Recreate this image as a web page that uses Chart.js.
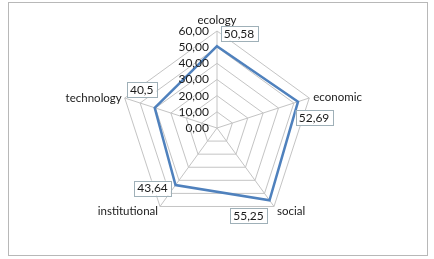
<!DOCTYPE html>
<html>
<head>
<meta charset="utf-8">
<script src="https://cdn.jsdelivr.net/npm/chart.js@4"></script>
<style>
  html, body { margin: 0; padding: 0; background: #fff; }
  #wrap { position: relative; width: 434px; height: 259px; }
</style>
</head>
<body>
<div id="wrap"><canvas id="radar" width="434" height="259"></canvas></div>
<script>
// --- data ---
const categories = ['ecology', 'economic', 'social', 'institutional', 'technology'];
const scores = [50.58, 52.69, 55.25, 43.64, 40.5];
const scoreText = ['50,58', '52,69', '55,25', '43,64', '40,5'];
const tickValues = [0, 10, 20, 30, 40, 50, 60];
const tickText = ['0,00', '10,00', '20,00', '30,00', '40,00', '50,00', '60,00'];

const FONT = 'Lato, "Open Sans", sans-serif';

// outer frame of the picture
const framePlugin = {
  id: 'frame',
  beforeDraw(chart) {
    const c = chart.ctx;
    c.save();
    c.fillStyle = '#fff';
    c.fillRect(0, 0, chart.width, chart.height);
    c.strokeStyle = '#b8b8b8';
    c.lineWidth = 1;
    c.strokeRect(8.5, 2.5, 419, 253);
    c.restore();
  }
};

// tick labels sit left of the vertical axis, like the spreadsheet chart
const tickPlugin = {
  id: 'sideTicks',
  afterDraw(chart) {
    const s = chart.scales.r;
    const c = chart.ctx;
    c.save();
    c.font = '12px ' + FONT;
    c.fillStyle = '#1a1a1a';
    c.textAlign = 'right';
    c.textBaseline = 'middle';
    tickValues.forEach((v, i) => {
      const y = s.yCenter - s.getDistanceFromCenterForValue(v);
      c.fillText(tickText[i], s.xCenter - 8, y);
    });
    c.restore();
  }
};

// category names placed around the outer ring
const labelPlace = [
  { dx: 0, dy: -11, align: 'center' },
  { dx: 4, dy: -1, align: 'left' },
  { dx: 3, dy: 5, align: 'left' },
  { dx: -2, dy: 5, align: 'right' },
  { dx: -3, dy: 0, align: 'right' }
];
const catPlugin = {
  id: 'catLabels',
  afterDraw(chart) {
    const s = chart.scales.r;
    const c = chart.ctx;
    c.save();
    c.font = '11.5px ' + FONT;
    c.fillStyle = '#1a1a1a';
    c.textBaseline = 'middle';
    categories.forEach((name, i) => {
      const p = s.getPointPosition(i, s.drawingArea);
      c.textAlign = labelPlace[i].align;
      c.fillText(name, p.x + labelPlace[i].dx, p.y + labelPlace[i].dy);
    });
    c.restore();
  }
};

// boxed value labels next to each point
const boxOffsets = [[22, -13], [16, 16], [-21, 15], [-23, 3], [-13, -18]];
const boxPlugin = {
  id: 'valueBoxes',
  afterDatasetsDraw(chart) {
    const c = chart.ctx;
    const meta = chart.getDatasetMeta(0);
    c.save();
    c.font = '12px ' + FONT;
    c.textAlign = 'center';
    c.textBaseline = 'middle';
    meta.data.forEach((pt, i) => {
      const cx = pt.x + boxOffsets[i][0];
      const cy = pt.y + boxOffsets[i][1];
      const w = c.measureText(scoreText[i]).width + 6;
      const h = 15;
      c.fillStyle = '#fff';
      c.fillRect(cx - w / 2, cy - h / 2, w, h);
      c.strokeStyle = '#9fb0b8';
      c.lineWidth = 1;
      c.strokeRect(Math.round(cx - w / 2) + 0.5, Math.round(cy - h / 2) + 0.5, Math.round(w), h);
      c.fillStyle = '#1a1a1a';
      c.fillText(scoreText[i], cx, cy + 0.5);
    });
    c.restore();
  }
};

new Chart(document.getElementById('radar'), {
  type: 'radar',
  data: {
    labels: categories,
    datasets: [{
      data: scores,
      borderColor: '#4f81bd',
      borderWidth: 2.5,
      fill: false,
      pointRadius: 0,
      tension: 0
    }]
  },
  options: {
    responsive: false,
    animation: false,
    layout: { padding: { left: 100, right: 100, top: 31, bottom: 34 } },
    plugins: { legend: { display: false }, tooltip: { enabled: false } },
    scales: {
      r: {
        min: 0,
        max: 60,
        ticks: { stepSize: 10, display: false },
        grid: { color: '#c4c4c4', lineWidth: 1 },
        angleLines: { color: '#c4c4c4', lineWidth: 1 },
        pointLabels: { display: false }
      }
    }
  },
  plugins: [framePlugin, tickPlugin, catPlugin, boxPlugin]
});
</script>
</body>
</html>
